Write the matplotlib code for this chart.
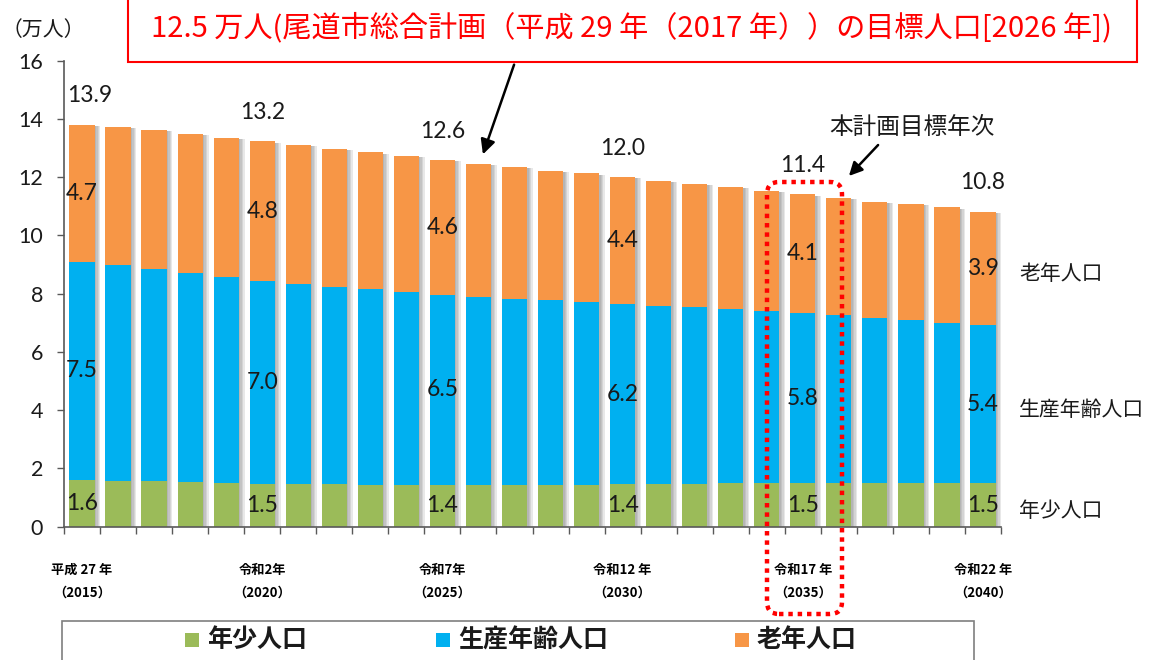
# -*- coding: utf-8 -*-
"""
尾道市 将来人口推計 (年齢3区分別, 2015-2040) stacked bar chart
"""

import matplotlib
matplotlib.use('Agg')
import matplotlib.pyplot as plt
from matplotlib.patches import FancyBboxPatch, Rectangle
import numpy as np

plt.rcParams['font.family'] = ['Noto Sans CJK JP', 'DejaVu Sans']

# data (万人)
years = list(range(2015, 2041))
young = [1.61, 1.58, 1.56, 1.52, 1.50, 1.47, 1.47, 1.47, 1.44, 1.43, 1.43, 1.43, 1.43,
         1.43, 1.43, 1.45, 1.46, 1.47, 1.49, 1.49, 1.49, 1.49, 1.49, 1.49, 1.49, 1.49]
working = [7.49, 7.42, 7.29, 7.20, 7.08, 6.96, 6.85, 6.77, 6.72, 6.62, 6.53, 6.46, 6.40,
           6.34, 6.30, 6.21, 6.12, 6.06, 5.98, 5.93, 5.85, 5.78, 5.68, 5.60, 5.52, 5.44]
elderly = [4.70, 4.73, 4.76, 4.77, 4.78, 4.80, 4.79, 4.73, 4.69, 4.69, 4.62, 4.58, 4.52,
           4.46, 4.40, 4.34, 4.30, 4.25, 4.19, 4.11, 4.07, 4.03, 3.99, 3.98, 3.95, 3.89]

series_names = ['年少人口', '生産年齢人口', '老年人口']
colors = ['#9BBB59', '#00B0F0', '#F79646']

# labelled years
label_idx = [0, 5, 10, 15, 20, 25]
era_labels = ['平成 27 年\n（2015）', '令和2年\n（2020）', '令和7年\n（2025）',
              '令和12 年\n（2030）', '令和17 年\n（2035）', '令和22 年\n（2040）']
young_txt = ['1.6', '1.5', '1.4', '1.4', '1.5', '1.5']
working_txt = ['7.5', '7.0', '6.5', '6.2', '5.8', '5.4']
elderly_txt = ['4.7', '4.8', '4.6', '4.4', '4.1', '3.9']
total_txt = ['13.9', '13.2', '12.6', '12.0', '11.4', '10.8']

W, H = 1156, 660
fig = plt.figure(figsize=(W / 100, H / 100), dpi=100, facecolor='white')
ax = fig.add_axes([64 / W, 1 - 526.7 / H, (1001 - 64) / W, (526.7 - 60.7) / H])

x = np.arange(len(years))
young = np.array(young)
working = np.array(working)
elderly = np.array(elderly)
total = young + working + elderly
num_font = ['Lato', 'Noto Sans CJK JP']

# soft shadow to the right of each bar
for off in [0.04, 0.08, 0.12, 0.16]:
    ax.bar(x + off, total - 0.04, width=0.7, color='#707070', alpha=0.16,
           linewidth=0, zorder=1)

bottoms = [np.zeros(len(x)), young, young + working]
for vals, bot, col, name in zip([young, working, elderly], bottoms, colors, series_names):
    ax.bar(x, vals, bottom=bot, width=0.7, color=col, linewidth=0, zorder=2, label=name)

# value labels
for j, i in enumerate(label_idx):
    ax.text(i, young[i] / 2, young_txt[j], ha='center', va='center',
            fontsize=16.5, color='#1a1a1a', family=num_font, zorder=3)
    ax.text(i, young[i] + working[i] / 2, working_txt[j], ha='center', va='center',
            fontsize=16.5, color='#1a1a1a', family=num_font, zorder=3)
    ax.text(i, young[i] + working[i] + elderly[i] / 2, elderly_txt[j], ha='center',
            va='center', fontsize=16.5, color='#1a1a1a', family=num_font, zorder=3)
    ax.text(i + (0.2 if i == 0 else 0), total[i] + 1.0, total_txt[j], ha='center',
            va='center', fontsize=16.5, color='#1a1a1a', family=num_font, zorder=3)

# series names at the right end
last = len(x) - 1
mids = [young[last] / 2, young[last] + working[last] / 2,
        young[last] + working[last] + elderly[last] / 2]
for name, m in zip(series_names, mids):
    ax.text(last + 1.0, m - 0.2, name, ha='left', va='center', fontsize=15,
            color='#1a1a1a', clip_on=False)

# axes styling
ax.set_xlim(-0.5, len(x) - 0.5)
ax.set_ylim(0, 16)
ax.set_yticks(np.arange(0, 17, 2))
ax.set_yticklabels([str(v) for v in range(0, 17, 2)], family=num_font, fontsize=15.5,
                   color='#1a1a1a')
ax.tick_params(axis='y', length=5, width=1, color='#595959', pad=10)
ax.set_xticks(label_idx)
ax.set_xticklabels(era_labels, fontsize=9.5, fontweight='bold', linespacing=1.85)
ax.set_xticks(np.arange(-0.5, len(x), 1), minor=True)
ax.tick_params(axis='x', which='major', length=0, pad=26)
ax.tick_params(axis='x', which='minor', length=5, width=1, color='#595959')
for s in ['top', 'right']:
    ax.spines[s].set_visible(False)
for s in ['left', 'bottom']:
    ax.spines[s].set_color('#595959')
    ax.spines[s].set_linewidth(1.2)

# unit label
fig.text(43 / W, 1 - 30 / H, '（万人）', ha='center', va='center', fontsize=15,
         color='#1a1a1a')

# red title box
fig.add_artist(Rectangle((128 / 100, (H - 62) / 100), (1137 - 128) / 100, 1.0,
                         transform=fig.dpi_scale_trans, facecolor='white',
                         edgecolor='#FF0000', linewidth=1.5, zorder=5))
fig.text(631 / W, 1 - 28 / H,
         '12.5 万人(尾道市総合計画（平成 29 年（2017 年））の目標人口[2026 年])',
         ha='center', va='center', fontsize=21, color='#FF0000', zorder=6)
fig.add_artist(matplotlib.patches.FancyArrowPatch(
    (515 / 100, (H - 62) / 100), (482 / 100, (H - 157) / 100),
    transform=fig.dpi_scale_trans, arrowstyle='-|>', mutation_scale=22,
    color='black', linewidth=1.8, zorder=6))

# target-year marker
fig.text(912 / W, 1 - 128 / H, '本計画目標年次', ha='center', va='center',
         fontsize=17, color='#1a1a1a')
fig.add_artist(matplotlib.patches.FancyArrowPatch(
    (880 / 100, (H - 143) / 100), (847 / 100, (H - 178) / 100),
    transform=fig.dpi_scale_trans, arrowstyle='-|>', mutation_scale=20,
    color='black', linewidth=1.8, zorder=6))
fig.add_artist(FancyBboxPatch((767 / 100, (H - 614) / 100), (842 - 767) / 100,
                              (614 - 182) / 100, boxstyle='round,pad=0,rounding_size=0.12',
                              transform=fig.dpi_scale_trans, fill=False,
                              edgecolor='#FF0000', linewidth=3.2,
                              linestyle=(0, (1, 1.1)), zorder=7))

# legend box
fig.add_artist(Rectangle((62 / 100, -0.3), (974 - 62) / 100, (H - 621) / 100 + 0.3,
                         transform=fig.dpi_scale_trans, facecolor='white',
                         edgecolor='#7f7f7f', linewidth=1.2, zorder=4))
for name, col, lx in zip(series_names, colors, [185, 436, 735]):
    fig.add_artist(Rectangle((lx / 100, (H - 647) / 100), 0.14, 0.14,
                             transform=fig.dpi_scale_trans, facecolor=col,
                             linewidth=0, zorder=5))
    fig.text((lx + 22) / W, 1 - 640 / H, name, ha='left', va='center', fontsize=18,
             fontweight='bold', color='#1a1a1a', zorder=5)

fig.savefig('out.png', dpi=100, facecolor='white')
plt.close(fig)
